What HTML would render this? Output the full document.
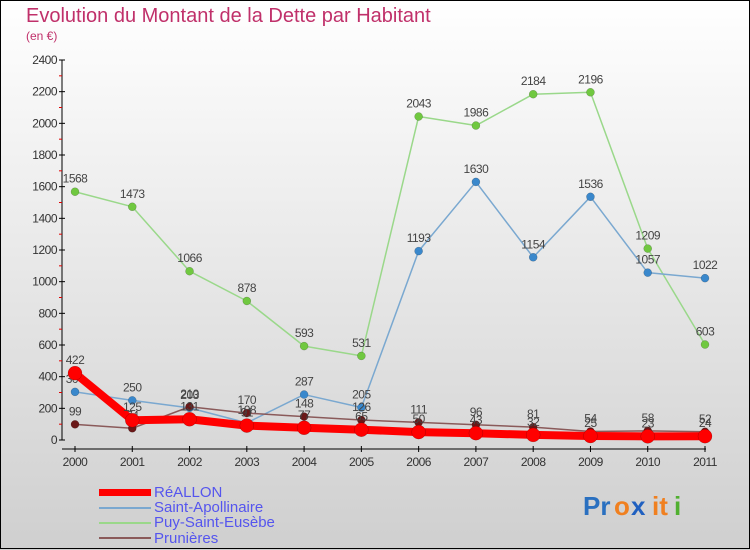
<!DOCTYPE html>
<html><head><meta charset="utf-8"><style>
html,body{margin:0;padding:0}
body{width:750px;height:550px;overflow:hidden;font-family:"Liberation Sans",sans-serif}
</style></head><body>
<svg id="chart" width="750" height="550" xmlns="http://www.w3.org/2000/svg" style="display:block">
<defs><linearGradient id="bg" x1="0" y1="0" x2="0" y2="1"><stop offset="0" stop-color="#ffffff"/><stop offset="1" stop-color="#cfcfcf"/></linearGradient></defs>
<rect x="0" y="0" width="750" height="550" fill="url(#bg)"/>
<rect x="0.5" y="0.5" width="749" height="548" fill="none" stroke="#000" stroke-width="1"/>
<text x="26" y="22" font-size="20" fill="#c0306a">Evolution du Montant de la Dette par Habitant</text>
<text x="26" y="40" font-size="12" fill="#c0306a">(en €)</text>
<g id="axes"></g><g id="series"></g>
<g>
<rect x="99" y="489" width="52" height="7" fill="#ff0000"/>
<line x1="99" y1="508" x2="151" y2="508" stroke="#7aa8d0" stroke-width="2"/>
<line x1="99" y1="523" x2="151" y2="523" stroke="#9ad88a" stroke-width="2"/>
<line x1="99" y1="538" x2="151" y2="538" stroke="#8a5a5a" stroke-width="2"/>
<text x="154" y="497" font-size="15" fill="#5555ee">RéALLON</text>
<text x="154" y="512" font-size="15" fill="#5555ee">Saint-Apollinaire</text>
<text x="154" y="527" font-size="15" fill="#5555ee">Puy-Saint-Eusèbe</text>
<text x="154" y="543" font-size="15" fill="#5555ee">Prunières</text>
</g>
<g font-size="26" font-weight="bold">
<text x="583" y="515" fill="#2a70c0">Pr</text><text x="614" y="515" fill="#f08020">o</text><text x="631" y="515" fill="#2060c0">x</text><text x="652" y="515" fill="#f08020">it</text><text x="674" y="515" fill="#50b030">i</text>
</g>
</svg>
<script>
const years=["2000","2001","2002","2003","2004","2005","2006","2007","2008","2009","2010","2011"];
const yTicks=[0,200,400,600,800,1000,1200,1400,1600,1800,2000,2200,2400];
const reallon=[422,125,131,91,77,65,50,43,32,25,23,24];
const stApollinaire=[304,250,203,108,287,205,1193,1630,1154,1536,1057,1022];
const puySaintEusebe=[1568,1473,1066,878,593,531,2043,1986,2184,2196,1209,603];
const prunieres=[99,74,210,170,148,126,111,96,81,54,58,52];
const NS="http://www.w3.org/2000/svg";
function X(i){return 75+i*(630/(years.length-1));}
function Y(v){return 440-v*(380/2400);}
function mk(t,a,p){const e=document.createElementNS(NS,t);for(const k in a)e.setAttribute(k,a[k]);p.appendChild(e);return e;}
const ax=document.getElementById('axes');
const yl=mk('line',{x1:62,y1:Y(2400),x2:62,y2:Y(0),stroke:'#000'},ax);


yTicks.forEach((v,i)=>{
 mk('line',{x1:59,y1:Y(v),x2:65,y2:Y(v),stroke:'#000'},ax);
 if(i<yTicks.length-1){mk('line',{x1:59,y1:Y(v+100),x2:62,y2:Y(v+100),stroke:'#e00000'},ax);}
 const t=mk('text',{x:57,y:Y(v)+4,'font-size':12,'text-anchor':'end',fill:'#333','letter-spacing':'-0.5'},ax);
 
 
 t.textContent=v;
});
const xl=mk('line',{x1:62,y1:449,x2:X(11)+1,y2:449,stroke:'#000'},ax);


years.forEach((y,i)=>{
 mk('line',{x1:X(i),y1:446,x2:X(i),y2:452,stroke:'#000'},ax);
 const t=mk('text',{x:X(i),y:466,'font-size':12,'text-anchor':'middle',fill:'#333','letter-spacing':'-0.5'},ax);
 
 
 t.textContent=y;
});
const sg=document.getElementById('series');
function series(vals,name,col,dot,w,r){
 const g=mk('g',{},sg);
 
 
 mk('polyline',{points:vals.map((v,i)=>X(i)+','+Y(v)).join(' '),fill:'none',stroke:col,'stroke-width':w,'stroke-linejoin':'round'},g);
 vals.forEach((v,i)=>{
  const c=mk('circle',{cx:X(i),cy:Y(v),r:r,fill:dot,stroke:'rgba(0,0,0,0.3)','stroke-width':0.5},g);
  
  
  const t=mk('text',{x:X(i),y:Y(v)-9,'font-size':12,'text-anchor':'middle',fill:'#444','letter-spacing':'-0.5'},g);
  
  
  t.textContent=v;
 });
}
series(puySaintEusebe,'puy-saint-eusebe-series','#9ad88a','#70c840',1.5,4);
series(stApollinaire,'saint-apollinaire-series','#7aa8d0','#3a88cc',1.5,4);
series(prunieres,'prunieres-series','#8a5a5a','#6a1818',1.5,4);
series(reallon,'reallon-series','#ff0000','#ff0000',8,7);
</script>
</body></html>
